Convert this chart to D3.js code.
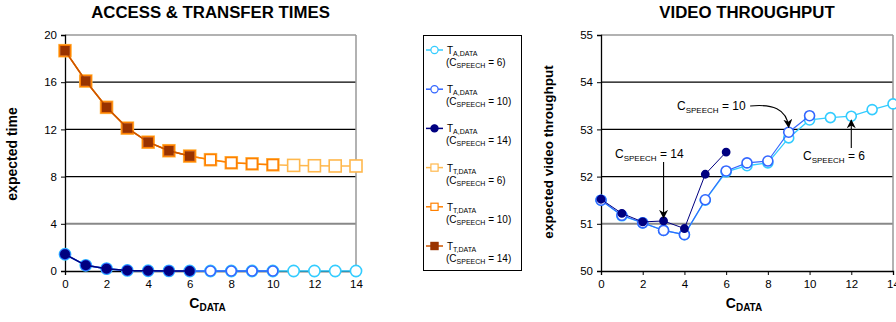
<!DOCTYPE html>
<html>
<head>
<meta charset="utf-8">
<script src="https://cdn.jsdelivr.net/npm/d3@7"></script>
<style>
  html, body { margin: 0; padding: 0; background: #fff; }
  svg { display: block; font-family: Arial, "Liberation Sans", sans-serif; }
</style>
</head>
<body>
<svg id="chart" width="896" height="322"></svg>
<script>
// C_DATA values on the x axis
const cData = [0, 1, 2, 3, 4, 5, 6, 7, 8, 9, 10, 11, 12, 13, 14];

// Access time T_A,DATA for each C_SPEECH setting
const accessSpeech6  = [1.42, 0.48, 0.2, 0.05, 0.02, 0.01, 0, 0, 0, 0, 0, 0, 0, 0, 0];
const accessSpeech10 = [1.42, 0.48, 0.2, 0.05, 0.02, 0.01, 0, 0, 0, 0, 0];
const accessSpeech14 = [1.42, 0.48, 0.2, 0.05, 0.02, 0.01, 0];

// Transfer time T_T,DATA for each C_SPEECH setting
const transferSpeech6  = [18.67, 16.1, 13.87, 12.11, 10.92, 10.19, 9.74, 9.43, 9.17, 9.08, 9.0, 8.95, 8.92, 8.9, 8.9];
const transferSpeech10 = [18.67, 16.1, 13.87, 12.11, 10.92, 10.19, 9.74, 9.43, 9.17, 9.08, 9.0];
const transferSpeech14 = [18.67, 16.1, 13.87, 12.11, 10.92, 10.19, 9.74];

// Expected video throughput for each C_SPEECH setting
const videoSpeech6  = [51.5, 51.17, 51.02, 50.86, 50.77, 51.5, 52.1, 52.23, 52.29, 52.82, 53.2, 53.25, 53.28, 53.42, 53.54];
const videoSpeech10 = [51.5, 51.18, 51.02, 50.86, 50.77, 51.51, 52.12, 52.29, 52.33, 52.94, 53.29];
const videoSpeech14 = [51.52, 51.22, 51.04, 51.06, 50.9, 52.05, 52.52];

const timeTicks = [0, 4, 8, 12, 16, 20];
const videoTicks = [50, 51, 52, 53, 54, 55];
const xTicks = [0, 2, 4, 6, 8, 10, 12, 14];

const svg = d3.select("#chart");

const COL = {
  cyan: "#33CCFF", blue: "#3366FF", navy: "#000080",
  lightOrange: "#FFB84D", orange: "#FF8000", brown: "#993300", brownLine: "#CC5500"
};

function drawPanel(opt) {
  const x = d3.scaleLinear().domain([0, 14]).range([opt.left, opt.right]);
  const y = d3.scaleLinear().domain(opt.yDomain).range([opt.bottom, opt.top]);
  const g = svg.append("g");

  // gridlines
  g.selectAll(".grid").data(opt.yTicks.filter(t => t !== opt.yDomain[0] && t !== opt.yDomain[1]))
    .enter().append("line")
    .attr("x1", opt.left).attr("x2", opt.right)
    .attr("y1", d => y(d)).attr("y2", d => y(d))
    .attr("stroke", d => d === opt.grayTick ? "#888" : "#000")
    .attr("stroke-width", d => d === opt.grayTick ? 2 : 1.2);

  // top and right frame
  g.append("line").attr("x1", opt.left).attr("x2", opt.right).attr("y1", opt.top).attr("y2", opt.top)
    .attr("stroke", "#999").attr("stroke-width", 1.5);
  g.append("line").attr("x1", opt.right).attr("x2", opt.right).attr("y1", opt.top).attr("y2", opt.bottom)
    .attr("stroke", "#999").attr("stroke-width", 1.5);

  // axes
  const yAxis = d3.axisLeft(y).tickValues(opt.yTicks).tickSize(4).tickPadding(4).tickFormat(d3.format("d"));
  const yg = g.append("g").attr("transform", `translate(${opt.left},0)`).call(yAxis);
  const xAxis = d3.axisBottom(x).tickValues(xTicks).tickSize(4).tickPadding(5).tickFormat(d3.format("d"));
  const xg = g.append("g").attr("transform", `translate(0,${opt.bottom})`).call(xAxis);
  [yg, xg].forEach(a => {
    a.select(".domain").attr("stroke", "#000").attr("stroke-width", 1.3);
    a.selectAll(".tick line").attr("stroke", "#000");
    a.selectAll(".tick text").attr("font-size", 11.5).attr("fill", "#000")
      .attr("font-family", "Arial, 'Liberation Sans', sans-serif");
  });
  xg.selectAll(".tick").filter(d => d === 0).select("line").remove();

  // title
  g.append("text").attr("x", (opt.left + opt.right) / 2).attr("y", 18)
    .attr("text-anchor", "middle").attr("font-size", 16.8).attr("font-weight", "bold")
    .text(opt.title);

  // x label C_DATA
  const xl = g.append("text").attr("x", (opt.left + opt.right) / 2 - 3).attr("y", 308)
    .attr("text-anchor", "middle").attr("font-weight", "bold").attr("font-size", 14);
  xl.append("tspan").text("C");
  xl.append("tspan").attr("font-size", 10).attr("dy", 3).text("DATA");

  // y label
  g.append("text").attr("transform", `translate(${opt.yLabelX},${opt.yLabelY}) rotate(-90)`)
    .attr("text-anchor", "middle").attr("font-weight", "bold").attr("font-size", opt.yLabelSize)
    .text(opt.yLabel);

  return { x, y, g };
}

function drawSeries(p, values, s) {
  const pts = values.map((v, i) => [cData[i], v]);
  const line = d3.line().x(d => p.x(d[0])).y(d => p.y(d[1]));
  p.g.append("path").datum(pts).attr("d", line)
    .attr("fill", "none").attr("stroke", s.line).attr("stroke-width", s.lw || 1.5);
  const m = p.g.append("g");
  if (s.shape === "circle") {
    m.selectAll("circle").data(pts).enter().append("circle")
      .attr("cx", d => p.x(d[0])).attr("cy", d => p.y(d[1])).attr("r", s.r)
      .attr("fill", s.fill).attr("stroke", s.stroke).attr("stroke-width", s.sw || 1.6);
  } else {
    m.selectAll("rect").data(pts).enter().append("rect")
      .attr("x", d => p.x(d[0]) - s.r).attr("y", d => p.y(d[1]) - s.r)
      .attr("width", 2 * s.r).attr("height", 2 * s.r)
      .attr("fill", s.fill).attr("stroke", s.stroke).attr("stroke-width", s.sw || 1.6);
  }
}

// ---------- left panel: access & transfer times ----------
const left = drawPanel({
  left: 65, right: 356, top: 35, bottom: 271,
  yDomain: [0, 20], yTicks: timeTicks, grayTick: 4,
  title: "ACCESS & TRANSFER TIMES", yLabel: "expected time", yLabelX: 17, yLabelY: 154, yLabelSize: 14
});

const styles = {
  a6:  { shape: "circle", line: COL.cyan, fill: "#fff", stroke: COL.cyan, r: 5.6 },
  a10: { shape: "circle", line: COL.blue, fill: "#fff", stroke: COL.blue, r: 5 },
  a14: { shape: "circle", line: COL.navy, fill: COL.navy, stroke: COL.navy, r: 4.2 },
  t6:  { shape: "rect", line: COL.lightOrange, fill: "#fff", stroke: COL.lightOrange, r: 6 },
  t10: { shape: "rect", line: COL.orange, fill: "#fff", stroke: COL.orange, r: 5.3 },
  t14: { shape: "rect", line: COL.brownLine, fill: COL.brown, stroke: COL.brown, r: 4 }
};

drawSeries(left, transferSpeech6, styles.t6);
drawSeries(left, transferSpeech10, styles.t10);
drawSeries(left, transferSpeech14, styles.t14);
drawSeries(left, accessSpeech6, styles.a6);
drawSeries(left, accessSpeech10, styles.a10);
drawSeries(left, accessSpeech14, styles.a14);

// ---------- legend ----------
const legendItems = [
  { main: "T", sub: "A,DATA", speech: "6", st: styles.a6 },
  { main: "T", sub: "A,DATA", speech: "10", st: styles.a10 },
  { main: "T", sub: "A,DATA", speech: "14", st: styles.a14 },
  { main: "T", sub: "T,DATA", speech: "6", st: styles.t6 },
  { main: "T", sub: "T,DATA", speech: "10", st: styles.t10 },
  { main: "T", sub: "T,DATA", speech: "14", st: styles.t14 }
];
const lg = svg.append("g");
lg.append("rect").attr("x", 423.5).attr("y", 35.5).attr("width", 98).attr("height", 235)
  .attr("fill", "#fff").attr("stroke", "#000").attr("stroke-width", 1);
const legY = d3.scalePoint().domain(d3.range(legendItems.length)).range([50, 246]);
legendItems.forEach((it, i) => {
  const cy = legY(i);
  const row = lg.append("g");
  row.append("line").attr("x1", 426).attr("x2", 443).attr("y1", cy).attr("y2", cy)
    .attr("stroke", it.st.line).attr("stroke-width", 1.5);
  const r = 3.6;
  if (it.st.shape === "circle") {
    row.append("circle").attr("cx", 434.5).attr("cy", cy).attr("r", r)
      .attr("fill", it.st.fill).attr("stroke", it.st.stroke).attr("stroke-width", 1.2);
  } else {
    row.append("rect").attr("x", 434.5 - r).attr("y", cy - r).attr("width", 2 * r).attr("height", 2 * r)
      .attr("fill", it.st.fill).attr("stroke", it.st.stroke).attr("stroke-width", 1.2);
  }
  const t1 = row.append("text").attr("x", 447).attr("y", cy + 4).attr("font-size", 10);
  t1.append("tspan").text(it.main);
  t1.append("tspan").attr("font-size", 7).attr("dy", 2).text(it.sub);
  const t2 = row.append("text").attr("x", 446).attr("y", cy + 16).attr("font-size", 10);
  t2.append("tspan").text("(C");
  t2.append("tspan").attr("font-size", 7).attr("dy", 2).text("SPEECH");
  t2.append("tspan").attr("dy", -2).text(" = " + it.speech + ")");
});

// ---------- right panel: video throughput ----------
const right = drawPanel({
  left: 601, right: 893, top: 35, bottom: 271,
  yDomain: [50, 55], yTicks: videoTicks, grayTick: 51,
  title: "VIDEO THROUGHPUT", yLabel: "expected video throughput", yLabelX: 553, yLabelY: 152, yLabelSize: 13.5
});

drawSeries(right, videoSpeech6, { shape: "circle", line: COL.cyan, fill: "#fff", stroke: COL.cyan, r: 5, lw: 1.3 });
drawSeries(right, videoSpeech10, { shape: "circle", line: COL.blue, fill: "#fff", stroke: COL.blue, r: 5, lw: 1.1 });
drawSeries(right, videoSpeech14, { shape: "circle", line: COL.navy, fill: COL.navy, stroke: COL.navy, r: 3.6, lw: 1 });

// annotation arrows
const defs = svg.append("defs");
defs.append("marker").attr("id", "arrow").attr("viewBox", "0 0 10 10")
  .attr("refX", 9).attr("refY", 5).attr("markerWidth", 9).attr("markerHeight", 9)
  .attr("markerUnits", "userSpaceOnUse").attr("orient", "auto")
  .append("path").attr("d", "M0,0 L10,5 L0,10 L3,5 Z").attr("fill", "#000");

function speechLabel(x, y, val) {
  const t = svg.append("text").attr("x", x).attr("y", y).attr("font-size", 12);
  t.append("tspan").text("C");
  t.append("tspan").attr("font-size", 8).attr("dy", 3).text("SPEECH");
  t.append("tspan").attr("dy", -3).text(" = " + val);
}

const rx = right.x, ry = right.y;
// C_SPEECH = 10 → curved arrow to the x=9 point
speechLabel(677, 110, "10");
const p10 = [rx(9), ry(videoSpeech10[9]) - 5];
svg.append("path")
  .attr("d", `M${rx(7.15)},${106} C${rx(8.2)},${104} ${rx(8.9)},${108} ${p10[0]},${p10[1]}`)
  .attr("fill", "none").attr("stroke", "#000").attr("stroke-width", 1.1).attr("marker-end", "url(#arrow)");

// C_SPEECH = 14 → vertical arrow to the x=3 point
speechLabel(615, 158, "14");
svg.append("line").attr("x1", rx(3)).attr("x2", rx(3)).attr("y1", 162).attr("y2", ry(videoSpeech14[3]) - 3)
  .attr("stroke", "#000").attr("stroke-width", 1.1).attr("marker-end", "url(#arrow)");

// C_SPEECH = 6 → arrow up to the x=12 point
speechLabel(803, 160, "6");
svg.append("line").attr("x1", rx(12)).attr("x2", rx(12)).attr("y1", 148).attr("y2", ry(videoSpeech6[12]) + 4)
  .attr("stroke", "#000").attr("stroke-width", 1.1).attr("marker-end", "url(#arrow)");
</script>
</body>
</html>
